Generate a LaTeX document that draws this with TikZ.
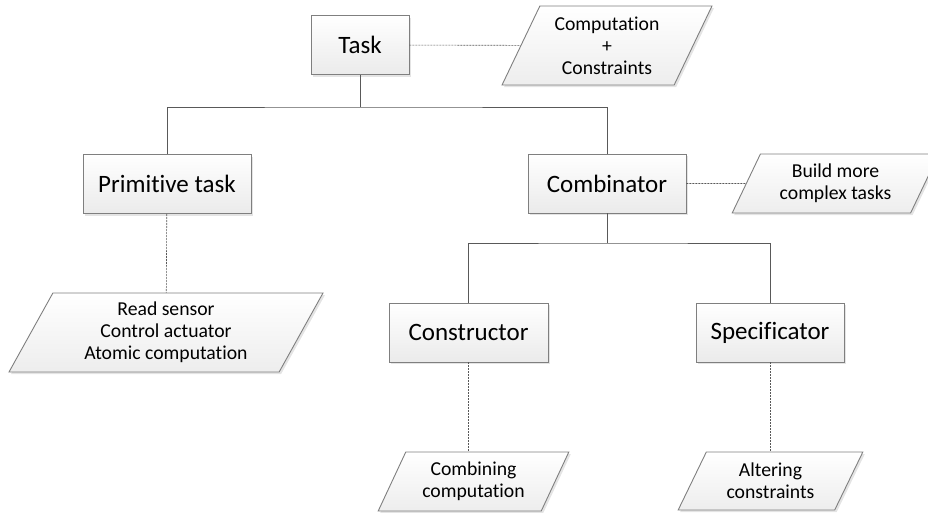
\documentclass[tikz,border=0pt]{standalone}
\usepackage{fontspec}
\setmainfont{Carlito}[Ligatures=NoCommon]
\usetikzlibrary{shapes.geometric, shadows}
\definecolor{linegray}{HTML}{595959}
\definecolor{boxgray}{HTML}{7F7F7F}

\begin{document}
\begin{tikzpicture}[x=1pt, y=-1pt,
  taskbox/.style={draw=boxgray, line width=0.9pt, top color=white, bottom color=gray!16,
    drop shadow={shadow xshift=2pt, shadow yshift=-2pt, fill=gray!35, opacity=.6},
    minimum height=59pt, font=\fontsize{25}{30}\selectfont},
  note/.style={trapezium, trapezium left angle=64, trapezium right angle=116,
    trapezium stretches=true, draw=boxgray, line width=0.9pt, top color=white, bottom color=gray!14,
    drop shadow={shadow xshift=2pt, shadow yshift=-2pt, fill=gray!35, opacity=.6},
    align=center, font=\fontsize{19.7}{22}\selectfont},
  tree/.style={draw=linegray, line width=0.9pt},
  link/.style={draw=linegray, dash pattern=on 2pt off 1pt, line width=0.6pt}]
\useasboundingbox (0,0) rectangle (928,512);

\node[taskbox, minimum width=98pt] (task) at (360,45) {Task};
\node[note, minimum width=210pt, minimum height=79pt] (cc) at (607,45.5) {Computation\\+\\Constraints};
\node[taskbox, minimum width=168pt] (prim) at (167,184) {Primitive task};
\node[taskbox, minimum width=158pt] (comb) at (607,183.5) {Combinator};
\node[note, minimum width=207pt, minimum height=59pt] (build) at (835.5,183.5) {Build more\\complex tasks};
\node[note, minimum width=314pt, minimum height=79pt] (atom) at (166,332.5) {Read sensor\\Control actuator\\Atomic computation};
\node[taskbox, minimum width=159pt] (cons) at (468.5,332.5) {Constructor};
\node[taskbox, minimum width=148pt] (spec) at (770,332.5) {Specificator};
\node[note, minimum width=191pt, minimum height=59pt] (combtxt) at (473.5,481.5) {Combining\\computation};
\node[note, minimum width=185pt, minimum height=58pt] (alter) at (770.5,481) {Altering\\constraints};

% tree
\coordinate (top bus) at (360,107);
\coordinate (mid bus) at (607,243);
\draw[tree] (task.south) -- (top bus);
\draw[tree] (prim.north) |- (top bus) -| (comb.north);
\draw[tree] (comb.south) -- (mid bus);
\draw[tree] (cons.north) |- (mid bus) -| (spec.north);

% notes
\draw[link] (task) -- (cc);
\draw[link] (comb) -- (build);
\draw[link] (prim) -- (atom);
\draw[link] (cons.south) -- (cons.south |- combtxt.north);
\draw[link] (spec.south) -- (spec.south |- alter.north);
\end{tikzpicture}
\end{document}
